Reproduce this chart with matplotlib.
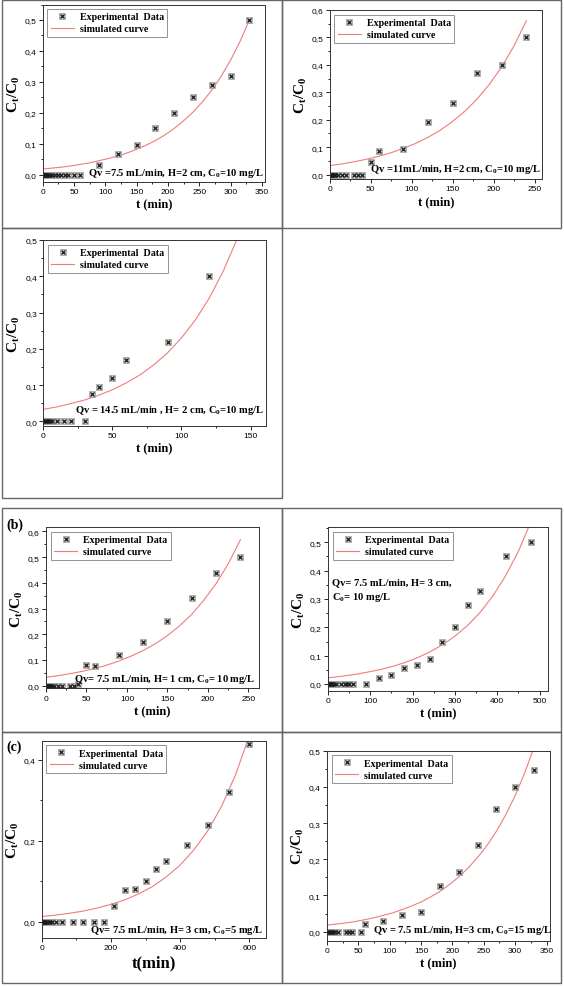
import matplotlib
matplotlib.use("Agg")
import matplotlib.pyplot as plt
from matplotlib.lines import Line2D
from matplotlib.patches import Rectangle
from matplotlib.legend_handler import HandlerTuple
from matplotlib.ticker import MultipleLocator, FuncFormatter

W, H = 564, 987

# ---- panel 1 : Qv 7.5, H 2, C0 10
t1 = [0, 1, 2, 3, 4, 5, 6, 8, 10, 12, 15, 20, 25, 30, 35, 40, 50, 60,
      90, 120, 150, 180, 210, 240, 270, 300, 330]
c1 = [0]*18 + [0.03, 0.065, 0.095, 0.15, 0.2, 0.25, 0.29, 0.32, 0.5]
st1 = [0, 15, 30, 45, 60, 75, 90, 105, 120, 135, 150, 165, 180, 195, 210,
       225, 240, 255, 270, 285, 300, 315, 330]
sc1 = [0.018, 0.021, 0.024, 0.028, 0.033, 0.038, 0.045, 0.052, 0.060, 0.070,
       0.082, 0.095, 0.110, 0.128, 0.149, 0.174, 0.202, 0.235, 0.273, 0.318,
       0.370, 0.430, 0.500]

# ---- panel 2 : Qv 11
t2 = [0, 1, 2, 3, 4, 5, 6, 7, 10, 15, 20, 30, 35, 40,
      50, 60, 90, 120, 150, 180, 210, 240]
c2 = [0]*14 + [0.045, 0.085, 0.095, 0.19, 0.26, 0.37, 0.40, 0.50]
st2 = [0, 15, 30, 45, 60, 75, 90, 105, 120, 135, 150, 165, 180, 195, 210, 225, 240]
sc2 = [0.033, 0.039, 0.047, 0.056, 0.067, 0.080, 0.096, 0.114, 0.136, 0.162,
       0.194, 0.231, 0.276, 0.330, 0.393, 0.470, 0.561]

# ---- panel 3 : Qv 14.5
t3 = [0, 1, 2, 3, 4, 5, 6, 10, 15, 20, 30, 35, 40, 50, 60, 90, 120]
c3 = [0]*11 + [0.075, 0.095, 0.12, 0.17, 0.22, 0.40]
st3 = [0, 10, 20, 30, 40, 50, 60, 70, 80, 90, 100, 110, 120, 130, 140, 150]
sc3 = [0.033, 0.040, 0.049, 0.059, 0.072, 0.087, 0.106, 0.128, 0.156, 0.189,
       0.230, 0.279, 0.339, 0.412, 0.500, 0.607]

# ---- panel (b) left : H 1 cm
t4 = [0, 1, 2, 3, 4, 5, 6, 8, 10, 15, 20, 30, 35, 40,
      50, 60, 90, 120, 150, 180, 210, 240]
c4 = [0]*13 + [0.005, 0.08, 0.075, 0.12, 0.17, 0.25, 0.34, 0.44, 0.50]
st4 = [0, 15, 30, 45, 60, 75, 90, 105, 120, 135, 150, 165, 180, 195, 210, 225, 240]
sc4 = [0.033, 0.039, 0.047, 0.056, 0.067, 0.080, 0.096, 0.115, 0.137, 0.163,
       0.195, 0.233, 0.278, 0.333, 0.397, 0.474, 0.567]

# ---- panel (b) right : H 3 cm
t5 = [0, 2, 4, 6, 8, 10, 15, 20, 30, 40, 45, 50, 60, 90,
      120, 150, 180, 210, 240, 270, 300, 330, 360, 420, 480]
c5 = [0]*14 + [0.022, 0.032, 0.055, 0.067, 0.088, 0.15, 0.20, 0.28, 0.33,
               0.45, 0.50]
st5 = [0, 30, 60, 90, 120, 150, 180, 210, 240, 270, 300, 330, 360, 390, 420,
       450, 480]
sc5 = [0.022, 0.027, 0.033, 0.041, 0.050, 0.061, 0.075, 0.092, 0.113, 0.138,
       0.169, 0.207, 0.254, 0.312, 0.383, 0.469, 0.575]

# ---- panel (c) left : C0 5
t6 = [0, 2, 4, 6, 8, 10, 15, 20, 25, 30, 40, 60, 90, 120, 150, 180,
      210, 240, 270, 300, 330, 360, 420, 480, 540, 600]
c6 = [0]*16 + [0.038, 0.078, 0.082, 0.10, 0.13, 0.15, 0.19, 0.24, 0.32, 0.44]
st6 = [0, 40, 80, 120, 160, 200, 240, 280, 320, 360, 400, 440, 480, 520, 560, 600]
sc6 = [0.013, 0.0165, 0.021, 0.0265, 0.034, 0.043, 0.054, 0.069, 0.087, 0.111,
       0.140, 0.178, 0.225, 0.286, 0.363, 0.460]

# ---- panel (c) right : C0 15
t7 = [0, 2, 4, 6, 8, 10, 13, 18, 30, 35, 40, 55,
      60, 90, 120, 150, 180, 210, 240, 270, 300, 330]
c7 = [0]*12 + [0.022, 0.03, 0.047, 0.054, 0.125, 0.165, 0.24, 0.338, 0.40, 0.448]
st7 = [0, 15, 30, 45, 60, 75, 90, 105, 120, 135, 150, 165, 180, 195, 210,
       225, 240, 255, 270, 285, 300, 315, 330]
sc7 = [0.018, 0.021, 0.024, 0.028, 0.033, 0.0385, 0.045, 0.052, 0.061, 0.071,
       0.082, 0.096, 0.111, 0.130, 0.151, 0.176, 0.205, 0.238, 0.277, 0.323,
       0.376, 0.438, 0.509]

SERIF = "Liberation Serif"
SANS = "Liberation Sans"
RED = "#f07c7c"

# gray box with a dark cross inside, like the small Origin star markers
BOX_KW = dict(ls="none", marker="s", ms=4.5, mfc="#c8c8c8", mec="#9a9a9a", mew=0.5)
CROSS_KW = dict(ls="none", marker="x", ms=2.6, mew=0.9, color="#1a1a1a")

fig = plt.figure(figsize=(W/100, H/100), dpi=100)


def box(x0, y0, x1, y1):
    return [x0/W, 1 - y1/H, (x1 - x0)/W, (y1 - y0)/H]


def comma(v, pos):
    return ("%.1f" % v).replace(".", ",")


def note_text(x, y, s, ha="right"):
    fig.text(x/W, 1 - y/H, s, ha=ha, va="center",
             family=SERIF, weight="bold", fontsize=7.6)


def panel(px, t, c, st, sc, xlim, ylim, xmaj, ymaj, xlab="t (min)", xlab_size=9):
    ax = fig.add_axes(box(*px))
    ax.plot(st, sc, color=RED, lw=0.8)
    ax.plot(t, c, **BOX_KW)
    ax.plot(t, c, **CROSS_KW)
    ax.set_xlim(*xlim)
    ax.set_ylim(*ylim)
    ax.xaxis.set_major_locator(MultipleLocator(xmaj))
    ax.xaxis.set_minor_locator(MultipleLocator(xmaj/2))
    ax.yaxis.set_major_locator(MultipleLocator(ymaj))
    ax.yaxis.set_minor_locator(MultipleLocator(ymaj/2))
    ax.yaxis.set_major_formatter(FuncFormatter(comma))
    ax.tick_params(which="both", direction="out", top=False, right=False,
                   labelsize=6, width=0.6, pad=1.5)
    ax.tick_params(which="major", length=3)
    ax.tick_params(which="minor", length=1.5)
    for lab in ax.get_xticklabels() + ax.get_yticklabels():
        lab.set_family(SANS)
    for s in ax.spines.values():
        s.set_linewidth(0.7)
        s.set_color("#333333")
    ax.set_xlabel(xlab, family=SERIF, weight="bold", fontsize=xlab_size, labelpad=2)
    ax.set_ylabel("C$_\\mathregular{t}$/C$_\\mathregular{0}$", family=SERIF,
                  weight="bold", fontsize=11, labelpad=2)
    marker_h = (Line2D([], [], **BOX_KW), Line2D([], [], **CROSS_KW))
    line_h = Line2D([], [], color=RED, lw=0.8)
    leg = ax.legend([marker_h, line_h], ["Experimental  Data", "simulated curve"],
                    handler_map={tuple: HandlerTuple(ndivide=1, pad=0)},
                    loc="upper left", prop={"family": SERIF, "weight": "bold", "size": 7.2},
                    frameon=True, fancybox=False, edgecolor="#777777",
                    handlelength=2.3, borderaxespad=0.45, labelspacing=0.3,
                    borderpad=0.35, handletextpad=0.6)
    leg.get_frame().set_linewidth(0.7)
    return ax


# panel frames
for x0, y0, x1, y1 in [(2, 1, 282, 229), (282, 1, 561, 229), (2, 229, 282, 499),
                       (2, 509, 282, 733), (282, 509, 561, 733),
                       (2, 733, 282, 984), (282, 733, 561, 984)]:
    fig.add_artist(Rectangle((x0/W, 1 - y1/H), (x1 - x0)/W, (y1 - y0)/H,
                             transform=fig.transFigure, fill=False,
                             ec="#666666", lw=1))

C0 = "C$_\\mathregular{0}$"
panel((42.7, 5.5, 265, 182.7), t1, c1, st1, sc1, (0, 355), (-0.023, 0.55), 50, 0.1)
note_text(264, 174, "Qv =7.5 mL/min, H=2 cm, " + C0 + "=10 mg/L")

panel((329.7, 11, 542, 180), t2, c2, st2, sc2, (0, 259), (-0.016, 0.6), 50, 0.1)
note_text(541, 170, "Qv =11mL/min, H=2 cm, " + C0 + "=10 mg/L")

panel((43.3, 241, 265.7, 426.7), t3, c3, st3, sc3, (0, 161), (-0.012, 0.5), 50, 0.1)
note_text(264, 411, "Qv = 14.5 mL/min , H= 2 cm, " + C0 + "=10 mg/L")

panel((46, 528.3, 259, 689.3), t4, c4, st4, sc4, (0, 263), (-0.01, 0.616), 50, 0.1)
note_text(255, 679, "Qv= 7.5 mL/min, H= 1 cm, " + C0 + "= 10 mg/L")

panel((328, 528.3, 547.7, 691.7), t5, c5, st5, sc5, (0, 519), (-0.0235, 0.553), 100, 0.1)
note_text(332, 583, "Qv= 7.5 mL/min, H= 3 cm,", ha="left")
note_text(332, 598, C0 + "= 10 mg/L", ha="left")

panel((41.7, 741.7, 265.7, 939), t6, c6, st6, sc6, (0, 647), (-0.04, 0.447), 200, 0.2,
      xlab="t(min)", xlab_size=12)
note_text(263, 931, "Qv= 7.5 mL/min, H= 3 cm, " + C0 + "=5 mg/L")

panel((327, 751.7, 550.3, 941.7), t7, c7, st7, sc7, (0, 356), (-0.025, 0.5), 50, 0.1)
note_text(552, 931, "Qv = 7.5 mL/min, H=3 cm, " + C0 + "=15 mg/L")

fig.text(6/W, 1 - 525/H, "(b)", family=SERIF, weight="bold", fontsize=10, va="center")
fig.text(6/W, 1 - 747/H, "(c)", family=SERIF, weight="bold", fontsize=10, va="center")

fig.savefig("out.png", dpi=100)
